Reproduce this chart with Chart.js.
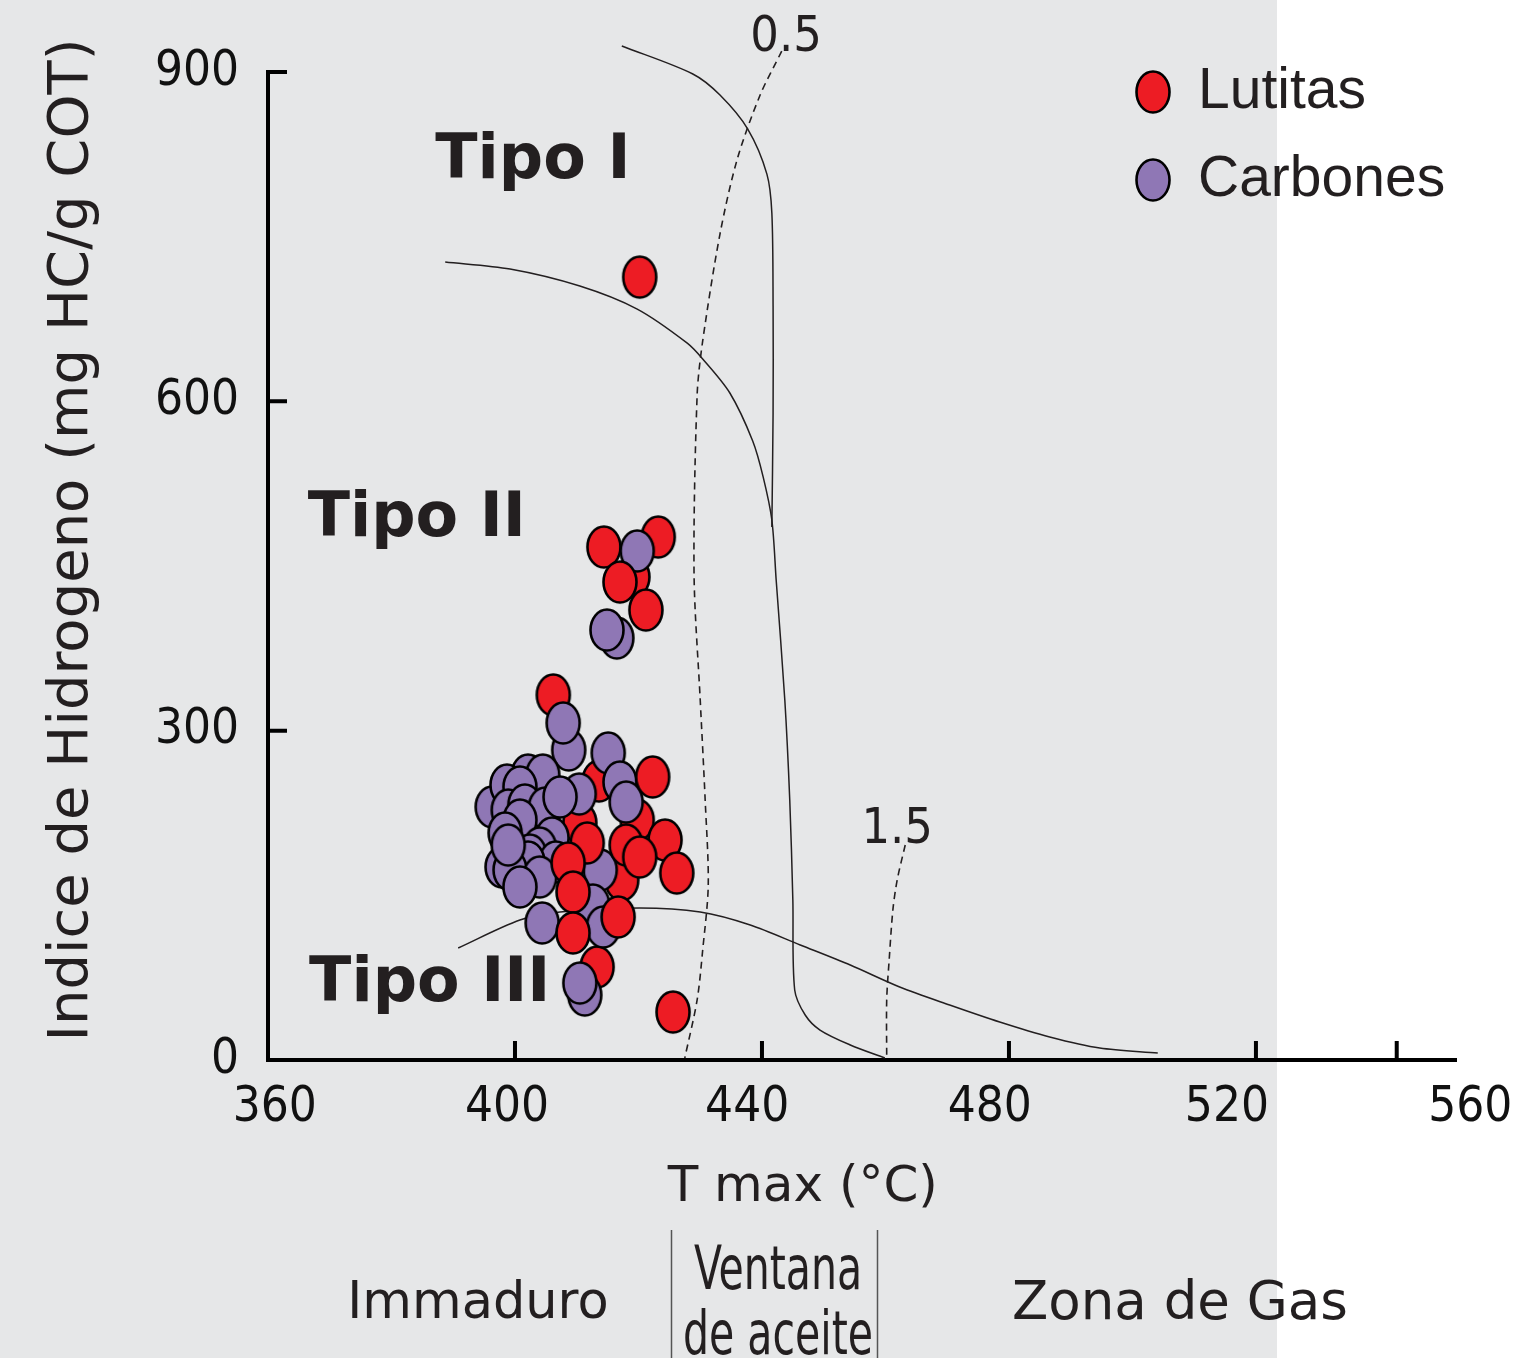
<!DOCTYPE html>
<html lang="es">
<head>
<meta charset="utf-8">
<title>Indice de Hidrogeno vs T max</title>
<script src="https://cdn.jsdelivr.net/npm/chart.js"></script>
<style>
  html, body { margin: 0; padding: 0; background: #ffffff; }
  #wrap { width: 1521px; height: 1358px; }
</style>
</head>
<body>
<div id="wrap"><canvas id="chartCanvas" width="1521" height="1358"></canvas></div>
<script>
// Lutitas (las que quedan delante de los carbones)
const lutitasTmax = [420.2, 417.0, 421.2, 422.3, 424.3, 426.2, 418.0, 420.2, 411.7, 408.6, 409.4, 416.7, 409.4, 425.6];
const lutitasIH   = [713.2, 435.4, 409.9, 257.8, 200.4, 170.3, 195.8, 184.9, 197.7, 179.4, 153.0, 130.3, 115.7, 43.7];
// Lutitas tapadas en parte por los carbones
const lutitasFondoTmax = [414.4, 423.2, 419.1, 406.2, 413.6, 410.5, 419.8, 413.3, 417.3];
const lutitasFondoIH   = [467.3, 476.4, 440.0, 332.5, 254.1, 215.9, 218.6, 84.7, 164.0];
// Carbones
const carbonesTmax = [416.5, 414.9, 419.8, 408.7, 407.8, 415.1, 417.0, 418.0, 402.1, 404.5, 410.4, 396.3, 398.7, 400.8,
  398.9, 401.6, 404.9, 400.8, 406.0, 398.4, 404.0, 402.4, 406.6, 402.1, 397.9, 399.2, 404.0, 400.8, 407.3, 398.9,
  413.8, 412.6, 414.3, 404.4, 411.3, 410.5];
const carbonesIH   = [384.4, 391.7, 463.7, 282.4, 307.0, 279.7, 253.2, 235.0, 259.6, 259.6, 242.3, 230.5, 250.5, 248.7,
  227.7, 232.3, 229.5, 218.6, 202.2, 206.8, 193.1, 186.7, 180.4, 180.4, 175.8, 173.1, 166.7, 157.6, 239.6, 195.8,
  173.1, 141.2, 121.2, 124.8, 59.2, 70.1];

// Curvas de tipo de kerogeno
const tipoITmax = [417.3, 428.8, 433.2, 437.7, 440.8, 441.6, 441.8, 441.8, 441.6];
const tipoIIH   = [923.7, 898.2, 879.0, 848.0, 807.0, 771.5, 686.8, 589.4, 485.5];
const tipoIITmax = [388.7, 399.2, 410.5, 419.8, 427.9, 430.4, 434.8, 438.5, 440.2, 441.6, 442.3, 443.7, 444.5, 445.0, 445.3, 447.0, 449.4, 454.3, 459.9];
const tipoIIIH   = [726.9, 720.5, 705.0, 684.0, 653.0, 638.6, 607.6, 563.9, 531.0, 491.9, 437.2, 327.9, 236.8, 145.7, 63.8, 41.0, 27.3, 13.7, 1.8];
const tipoIIITmax = [390.8, 400.8, 407.3, 420.2, 430.0, 438.1, 446.2, 454.3, 462.3, 470.4, 478.5, 486.6, 494.7, 504.1];
const tipoIIIIH   = [102.0, 127.5, 134.8, 138.5, 134.8, 123.0, 104.8, 86.5, 66.5, 50.1, 34.6, 21.0, 10.9, 6.4];

// Isolineas de reflectancia de vitrinita (Ro)
const ro05Tmax = [443.2, 439.7, 436.0, 433.2, 430.4, 429.5, 429.0, 430.0, 430.8, 431.3, 430.4, 429.5, 427.5];
const ro05IH   = [919.0, 879.0, 820.7, 752.4, 655.0, 605.8, 442.7, 327.9, 236.8, 159.4, 100.2, 54.7, 1.8];
const ro15Tmax = [463.2, 461.9, 461.2, 460.6, 460.2, 460.2];
const ro15IH   = [195.8, 164.0, 136.6, 91.1, 54.7, 1.8];

// Eje x: en la figura original las etiquetas no caen sobre las marcas
const xLabelValues = [361.1, 398.7, 437.6, 476.9, 515.3, 554.7];
const xTickLabels = ["360", "400", "440", "480", "520", "560"];
const xMarkValues = [400, 440, 480, 520, 542.8];

const textColor = "#231f20";
const narrowFamily = "'DejaVu Sans Condensed', 'Liberation Sans Narrow', 'DejaVu Sans', sans-serif";

function toPoints(xs, ys) {
  return xs.map((x, i) => ({ x: x, y: ys[i] }));
}

// Marcador eliptico como en la figura original
function ellipseMarker(fill) {
  const c = document.createElement("canvas");
  c.width = 38;
  c.height = 46;
  const g = c.getContext("2d");
  g.beginPath();
  g.ellipse(19, 23, 16.5, 20.5, 0, 0, Math.PI * 2);
  g.fillStyle = fill;
  g.fill();
  g.lineWidth = 2.6;
  g.strokeStyle = "#000000";
  g.stroke();
  return c;
}

const redMarker = ellipseMarker("#ed1c24");
const purpleMarker = ellipseMarker("#8f77b5");

function curve(label, xs, ys, dashed) {
  return {
    label: label,
    data: toPoints(xs, ys),
    showLine: true,
    borderColor: textColor,
    borderWidth: dashed ? 1.6 : 1.5,
    borderDash: dashed ? [7, 5] : [],
    pointRadius: 0,
    tension: 0.3,
    fill: false,
    clip: false,
    order: 5,
    inLegend: false
  };
}

function text(ctx, str, x, y, font, squeeze) {
  ctx.save();
  ctx.font = font;
  ctx.fillStyle = textColor;
  ctx.textAlign = "center";
  ctx.textBaseline = "middle";
  ctx.translate(x, y);
  ctx.scale(squeeze || 1, 1);
  ctx.fillText(str, 0, 0);
  ctx.restore();
}

const decorPlugin = {
  id: "decor",
  beforeDraw(chart) {
    const ctx = chart.ctx;
    ctx.save();
    ctx.fillStyle = "#ffffff";
    ctx.fillRect(0, 0, chart.width, chart.height);
    ctx.fillStyle = "#e6e7e8";
    ctx.fillRect(0, 0, 1277, chart.height);
    ctx.restore();

    // Leyenda arriba a la derecha, dentro del area del grafico
    const lg = chart.legend;
    const area = chart.chartArea;
    lg.left = area.right - 350.5;
    lg.top = area.top - 39.5;
    lg.right = chart.width;
    lg.bottom = lg.top + 320;
    lg.width = lg.right - lg.left;
    lg.height = lg.bottom - lg.top;
  },
  afterDraw(chart) {
    const ctx = chart.ctx;
    const xs = chart.scales.x;
    const ys = chart.scales.y;
    const area = chart.chartArea;

    // Marcas hacia dentro
    ctx.save();
    ctx.strokeStyle = "#000000";
    ctx.lineWidth = 4;
    ctx.beginPath();
    xMarkValues.forEach(v => {
      const px = xs.getPixelForValue(v);
      ctx.moveTo(px, area.bottom);
      ctx.lineTo(px, area.bottom - 19);
    });
    ys.ticks.forEach(t => {
      if (t.value > ys.min) {
        const py = ys.getPixelForValue(t.value);
        ctx.moveTo(area.left, py);
        ctx.lineTo(area.left + 19, py);
      }
    });
    ctx.stroke();
    ctx.restore();

    // Etiquetas de tipo de kerogeno
    const bold = "bold 62px 'DejaVu Sans'";
    text(ctx, "Tipo I", xs.getPixelForValue(402.9), ys.getPixelForValue(818), bold);
    text(ctx, "Tipo II", xs.getPixelForValue(384.1), ys.getPixelForValue(492), bold);
    text(ctx, "Tipo III", xs.getPixelForValue(386.2), ys.getPixelForValue(68), bold);

    // Etiquetas de Ro
    const narrow = "50px " + narrowFamily;
    text(ctx, "0.5", xs.getPixelForValue(443.9), ys.getPixelForValue(931), narrow);
    text(ctx, "1.5", xs.getPixelForValue(461.9), ys.getPixelForValue(209.5), narrow);

    // Titulos de ejes
    text(ctx, "T max (°C)", xs.getPixelForValue(446.6), 1188, "50px 'DejaVu Sans'");
    ctx.save();
    ctx.translate(72, 540);
    ctx.rotate(-Math.PI / 2);
    text(ctx, "Indice de Hidrogeno (mg HC/g COT)", 0, 0, "56px 'DejaVu Sans'");
    ctx.restore();

    // Zonas de madurez
    ctx.save();
    ctx.strokeStyle = "#555555";
    ctx.lineWidth = 1.5;
    ctx.beginPath();
    [425.3, 458.6].forEach(v => {
      const px = Math.round(xs.getPixelForValue(v)) + 0.5;
      ctx.moveTo(px, 1230);
      ctx.lineTo(px, chart.height);
    });
    ctx.stroke();
    ctx.restore();
    text(ctx, "Immaduro", xs.getPixelForValue(394.0), 1305, "51px 'DejaVu Sans'");
    text(ctx, "Ventana", xs.getPixelForValue(442.6), 1273, "60px " + narrowFamily, 0.76);
    text(ctx, "de aceite", xs.getPixelForValue(442.6), 1338, "60px " + narrowFamily, 0.76);
    text(ctx, "Zona de Gas", xs.getPixelForValue(507.7), 1305, "53px 'DejaVu Sans'");
  }
};

const chartCanvas = document.getElementById("chartCanvas");
const chart = new Chart(chartCanvas.getContext("2d"), {
  type: "scatter",
  data: {
    datasets: [
      { label: "Lutitas", data: toPoints(lutitasTmax, lutitasIH), pointStyle: redMarker, order: 0, inLegend: true },
      { label: "Carbones", data: toPoints(carbonesTmax, carbonesIH), pointStyle: purpleMarker, order: 1, inLegend: true },
      { label: "Lutitas", data: toPoints(lutitasFondoTmax, lutitasFondoIH), pointStyle: redMarker, order: 2, inLegend: false },
      curve("Tipo I", tipoITmax, tipoIIH, false),
      curve("Tipo II", tipoIITmax, tipoIIIH, false),
      curve("Tipo III", tipoIIITmax, tipoIIIIH, false),
      curve("Ro 0.5", ro05Tmax, ro05IH, true),
      curve("Ro 1.5", ro15Tmax, ro15IH, true)
    ]
  },
  options: {
    responsive: false,
    animation: false,
    events: [],
    layout: { padding: { left: 0, top: 72, right: 65, bottom: 0 } },
    scales: {
      x: {
        type: "linear",
        min: 360,
        max: 552.4,
        grid: { display: false, drawTicks: false },
        border: { display: true, color: "#000000", width: 4 },
        afterBuildTicks(scale) {
          scale.ticks = xLabelValues.map(v => ({ value: v }));
        },
        afterFit(scale) {
          scale.height = 298;
          scale.paddingLeft = 0;
          scale.paddingRight = 0;
        },
        ticks: {
          autoSkip: false,
          maxRotation: 0,
          padding: 19,
          color: "#111111",
          font: { family: narrowFamily, size: 49 },
          callback: (value, index) => xTickLabels[index]
        }
      },
      y: {
        type: "linear",
        min: 0,
        max: 900,
        grid: { display: false, drawTicks: false },
        border: { display: true, color: "#000000", width: 4 },
        afterFit(scale) {
          scale.width = 268;
          scale.paddingTop = 0;
          scale.paddingBottom = 0;
        },
        ticks: {
          stepSize: 300,
          padding: 29,
          color: "#111111",
          font: { family: narrowFamily, size: 49 }
        }
      }
    },
    plugins: {
      tooltip: { enabled: false },
      legend: {
        position: "chartArea",
        align: "start",
        labels: {
          usePointStyle: true,
          boxWidth: 33,
          padding: 31,
          color: textColor,
          font: { family: "'Liberation Sans'", size: 57 },
          filter: (item, data) => data.datasets[item.datasetIndex].inLegend
        }
      }
    }
  },
  plugins: [decorPlugin]
});
</script>
</body>
</html>
